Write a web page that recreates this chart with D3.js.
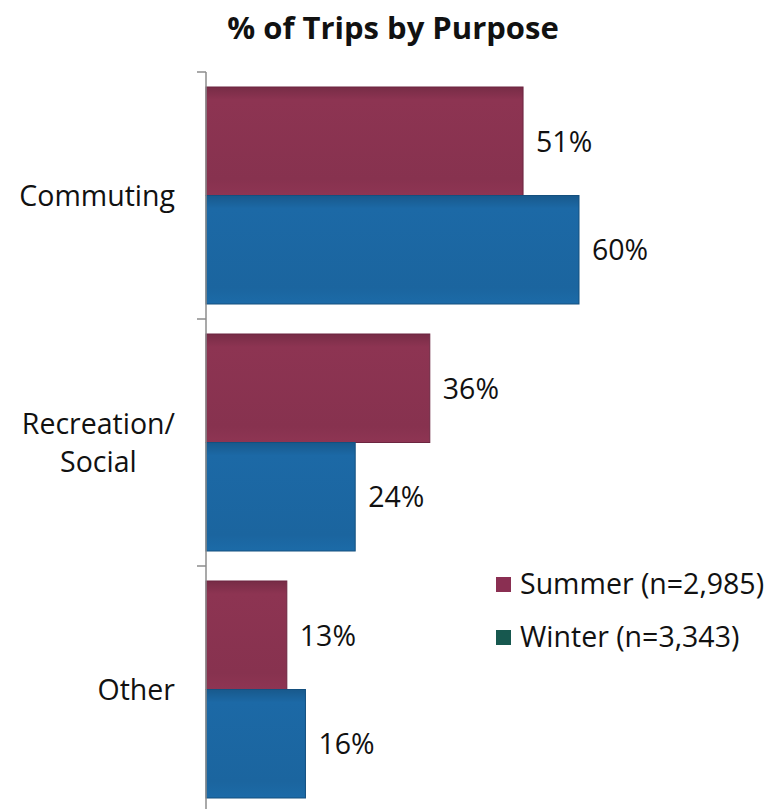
<!DOCTYPE html>
<html>
<head>
<meta charset="utf-8">
<script src="https://cdn.jsdelivr.net/npm/d3@7"></script>
<style>
  html, body { margin: 0; padding: 0; background: #fff; }
  svg { display: block; font-family: "Open Sans", sans-serif; }
</style>
</head>
<body>
<svg id="chart" width="775" height="809"></svg>
<script>
// Trip purpose shares by season
const categories = ["Commuting", "Recreation/\nSocial", "Other"];
const seriesNames = ["Summer (n=2,985)", "Winter (n=3,343)"];
const summerValues = [51, 36, 13];
const winterValues = [60, 24, 16];
const seriesKeys = ["summer", "winter"];

const rows = categories.map((c, i) => ({
  category: c,
  summer: summerValues[i],
  winter: winterValues[i]
}));

const svg = d3.select("#chart");
const axisX = 206;
const labelSize = 28.5;

const y = d3.scaleBand()
  .domain(categories)
  .range([72, 813])
  .paddingInner(0)
  .paddingOuter(0);

const inner = d3.scaleBand()
  .domain(seriesKeys)
  .range([15, y.bandwidth() - 15])
  .padding(0);

const x = d3.scaleLinear()
  .domain([0, 60])
  .range([axisX, axisX + 373]);

const colors = { summer: "#87324f", winter: "#1b659f" };
const edges = { summer: "#6c2540", winter: "#14507f" };
const swatch = { summer: "#8a2f52", winter: "#17584f" };

// soft shading across each bar
const defs = svg.append("defs");
seriesKeys.forEach(k => {
  const g = defs.append("linearGradient")
    .attr("id", "grad-" + k)
    .attr("x1", 0).attr("y1", 0).attr("x2", 0).attr("y2", 1);
  const base = d3.color(colors[k]);
  g.append("stop").attr("offset", "0%").attr("stop-color", base.darker(0.35));
  g.append("stop").attr("offset", "12%").attr("stop-color", base.brighter(0.12));
  g.append("stop").attr("offset", "85%").attr("stop-color", base);
  g.append("stop").attr("offset", "100%").attr("stop-color", base.brighter(0.15));
});

// title
svg.append("text")
  .attr("x", 393).attr("y", 39)
  .attr("text-anchor", "middle")
  .attr("font-size", 31)
  .attr("font-weight", "bold")
  .attr("fill", "#111")
  .text("% of Trips by Purpose");

// bars
const groups = svg.selectAll("g.cat")
  .data(rows)
  .join("g")
  .attr("class", "cat")
  .attr("transform", d => `translate(0,${y(d.category)})`);

groups.selectAll("rect")
  .data(d => seriesKeys.map(k => ({ key: k, value: d[k] })))
  .join("rect")
  .attr("x", x(0))
  .attr("y", d => inner(d.key))
  .attr("width", d => x(d.value) - x(0))
  .attr("height", inner.bandwidth())
  .attr("fill", d => `url(#grad-${d.key})`)
  .attr("stroke", d => edges[d.key])
  .attr("stroke-width", 1);

// value labels
groups.selectAll("text.val")
  .data(d => seriesKeys.map(k => ({ key: k, value: d[k] })))
  .join("text")
  .attr("class", "val")
  .attr("x", d => x(d.value) + 13)
  .attr("y", d => inner(d.key) + inner.bandwidth() / 2)
  .attr("dy", "0.36em")
  .attr("font-size", labelSize)
  .attr("fill", "#111")
  .text(d => d.value + "%");

// category axis line with boundary ticks
const axisG = svg.append("g")
  .attr("transform", `translate(${axisX},0)`);
axisG.append("path")
  .attr("fill", "none")
  .attr("stroke", "#8c8c8c").attr("stroke-width", 1.5)
  .attr("d", `M0,${y.range()[0]}V${y.range()[1]}`);
const boundaries = categories.map(c => y(c)).concat([y.range()[1]]);
axisG.selectAll("line.bound")
  .data(boundaries)
  .join("line")
  .attr("class", "bound")
  .attr("x1", -9).attr("x2", 0)
  .attr("y1", d => d).attr("y2", d => d)
  .attr("stroke", "#8c8c8c").attr("stroke-width", 1.5);

// category labels: block right-aligned, lines centered within it
const labelG = svg.append("g");
rows.forEach(r => {
  const lines = r.category.split("\n");
  const cy = y(r.category) + y.bandwidth() / 2;
  const lh = 38;
  const t = labelG.append("text")
    .attr("font-size", labelSize)
    .attr("fill", "#111");
  lines.forEach((ln, i) => {
    t.append("tspan")
      .attr("y", cy + (i - (lines.length - 1) / 2) * lh)
      .attr("dy", "0.36em")
      .text(ln);
  });
  const tspans = t.selectAll("tspan").nodes();
  const blockW = d3.max(tspans.map(n => n.getComputedTextLength()));
  const right = 175;
  tspans.forEach(n => {
    d3.select(n)
      .attr("x", right - blockW / 2)
      .attr("text-anchor", "middle");
  });
});

// legend
const legend = svg.append("g").attr("transform", "translate(496,584)");
seriesKeys.forEach((k, i) => {
  const g = legend.append("g").attr("transform", `translate(0,${i * 53})`);
  g.append("rect")
    .attr("x", 0).attr("y", -7)
    .attr("width", 15).attr("height", 15)
    .attr("fill", swatch[k]);
  g.append("text")
    .attr("x", 24).attr("y", 0)
    .attr("dy", "0.36em")
    .attr("font-size", labelSize)
    .attr("fill", "#111")
    .text(seriesNames[i]);
});
</script>
</body>
</html>
